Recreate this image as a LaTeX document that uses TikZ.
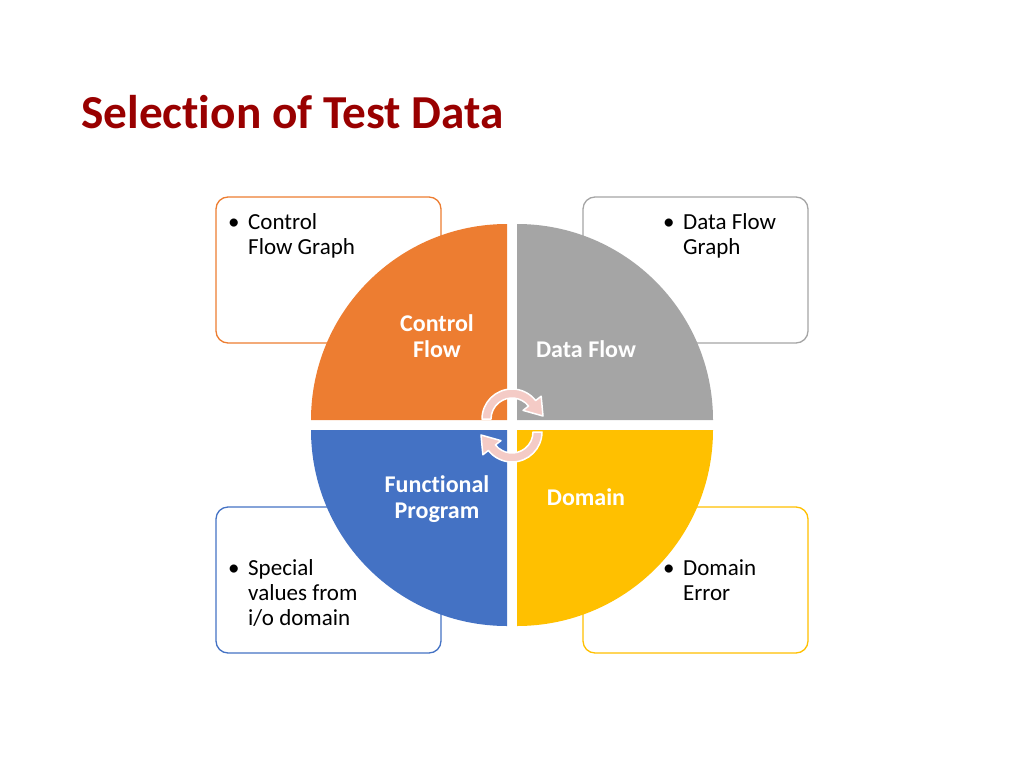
\documentclass[tikz,border=0pt]{standalone}
\usepackage{fontspec}
\setmainfont{Carlito}[Ligatures=NoCommon]
\definecolor{ctrlorange}{HTML}{ED7D31}
\definecolor{flowgray}{HTML}{A5A5A5}
\definecolor{funcblue}{HTML}{4472C4}
\definecolor{domyellow}{HTML}{FFC000}
\definecolor{titlered}{HTML}{990000}
\definecolor{cyclepink}{HTML}{F4CBC6}
\tikzset{
  infobox/.style={fill=white,rounded corners=12pt,line width=1.3pt},
  boxtext/.style={anchor=base west,inner sep=0pt,font=\fontsize{23}{25}\selectfont},
  quadtext/.style={anchor=base,inner sep=0pt,text=white,font=\fontsize{24}{26}\selectfont\bfseries},
  cyclearrow/.style={fill=cyclepink,draw=white,line width=1.5pt,line join=round}
}
\begin{document}
\begin{tikzpicture}[x=1pt,y=-1pt]
    \useasboundingbox (0,0) rectangle (1024,768);
    %% Title
    \node[anchor=base west,inner sep=0pt,text=titlered,font=\fontsize{47.3}{52}\selectfont\bfseries] (title) at (81,128) {Selection of Test Data};
    %% Outer boxes
    \draw[infobox,draw=ctrlorange] (216,197) rectangle (441,343);
    \draw[infobox,draw=flowgray] (583,197) rectangle (808,343);
    \draw[infobox,draw=funcblue] (216,507) rectangle (441,653);
    \draw[infobox,draw=domyellow] (583,507) rectangle (808,653);
    %% Box texts
    \node[boxtext] (cfg) at (228,229) {\begin{tabular}[t]{@{}l@{}l@{}}\makebox[20pt][l]{\textbullet}&Control\\&Flow Graph\end{tabular}};
    \node[boxtext] (dfg) at (663,229) {\begin{tabular}[t]{@{}l@{}l@{}}\makebox[20pt][l]{\textbullet}&Data Flow\\&Graph\end{tabular}};
    \node[boxtext] (spv) at (228,575) {\begin{tabular}[t]{@{}l@{}l@{}}\makebox[20pt][l]{\textbullet}&Special\\&values from\\&i/o domain\end{tabular}};
    \node[boxtext] (der) at (663,575) {\begin{tabular}[t]{@{}l@{}l@{}}\makebox[20pt][l]{\textbullet}&Domain\\&Error\end{tabular}};
    %% Quarter discs
    \fill[ctrlorange] (507,420) -- (311,420) arc[start angle=180,end angle=270,radius=196] -- cycle;
    \fill[flowgray] (517,420) -- (517,224) arc[start angle=270,end angle=360,radius=196] -- cycle;
    \fill[domyellow] (517,430) -- (713,430) arc[start angle=0,end angle=90,radius=196] -- cycle;
    \fill[funcblue] (507,430) -- (507,626) arc[start angle=90,end angle=180,radius=196] -- cycle;
    %% Quarter labels
    \node[quadtext] (cf) at (437,331) {\begin{tabular}[t]{@{}c@{}}Control\\Flow\end{tabular}};
    \node[quadtext] (df) at (586,357) {Data Flow};
    \node[quadtext] (fp) at (437,492) {\begin{tabular}[t]{@{}c@{}}Functional\\Program\end{tabular}};
    \node[quadtext] (dm) at (586,505) {Domain};
    %% Cycle arrows
    \begin{scope}[shift={(512,419)}]
        \filldraw[cyclearrow] (180:30) arc[start angle=180,end angle=322,radius=30] -- (322:37) -- (31,-3) -- (322:14) -- (322:21) arc[start angle=322,end angle=180,radius=21] -- cycle;
    \end{scope}
    \begin{scope}[shift={(512,432)}]
        \filldraw[cyclearrow] (0:30) arc[start angle=0,end angle=142,radius=30] -- (142:37) -- (-31,3) -- (142:14) -- (142:21) arc[start angle=142,end angle=0,radius=21] -- cycle;
    \end{scope}
\end{tikzpicture}
\end{document}
